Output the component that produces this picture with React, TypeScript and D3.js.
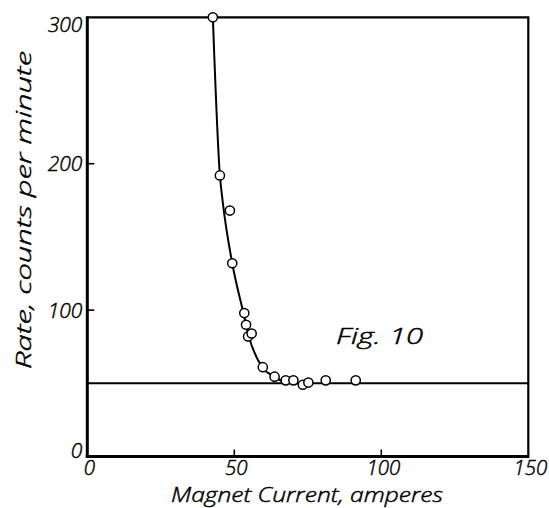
import React from "react";
import * as d3 from "d3";

// Measured counting rate versus magnet current
const currents = [42.7, 45.1, 48.5, 49.3, 53.4, 54.0, 54.7, 55.9, 59.7, 63.7, 67.5, 70.1, 73.3, 75.2, 81.1, 91.3];
const rates = [300, 192, 168, 132, 98, 90, 82, 84, 61, 54.5, 52, 52, 49, 50.5, 52, 52];

// Hand-drawn smooth curve through the data
const curveCurrents = [42.7, 45.1, 46.0, 49.3, 53.1, 54.8, 59.5, 63.8, 66.7, 70, 74];
const curveRates = [300, 192, 175, 132, 98, 83, 61, 54.5, 51, 50, 50];

// Background level
const backgroundRate = 50;

const xTicks = [0, 50, 100, 150];
const yTicks = [0, 100, 200, 300];
const xTickMarks = [50, 100];
const yTickMarks = [100, 200];

const W = 549;
const H = 508;
const FONT = "'Open Sans', 'DejaVu Sans', sans-serif";
const WEIGHT = 300;

export default function App() {
  const x = d3.scaleLinear().domain([0, 150]).range([87.3, 528.3]);
  const y = d3.scaleLinear().domain([0, 300]).range([456.5, 17.3]);

  const line = d3
    .line<[number, number]>()
    .x((d) => x(d[0]))
    .y((d) => y(d[1]))
    .curve(d3.curveMonotoneX);
  const curvePath = line(curveCurrents.map((c, i) => [c, curveRates[i]] as [number, number])) || "";

  const [x0, x1] = x.range();
  const [y0, y1] = y.range();

  // light lettering, lightly stroked to give an inked line weight
  const textProps = {
    fontFamily: FONT,
    fontStyle: "italic",
    fontWeight: WEIGHT,
    fill: "#000",
    stroke: "#000",
    strokeWidth: 0.45,
  } as const;

  return (
    <svg
      width={W}
      height={H}
      viewBox={`0 0 ${W} ${H}`}
      style={{ position: "absolute", left: 0, top: 0, background: "#fff" }}
    >
      <rect x={0} y={0} width={W} height={H} fill="#fff" />

      {/* frame */}
      <line x1={x0} x2={x0} y1={y1 - 1} y2={y0 + 1.5} stroke="#000" strokeWidth={3} />
      <line x1={x0 - 1.5} x2={x1 + 1} y1={y0} y2={y0} stroke="#000" strokeWidth={3} />
      <line x1={x0} x2={x1 + 1} y1={y1} y2={y1} stroke="#000" strokeWidth={2.2} />
      <line x1={x1} x2={x1} y1={y1} y2={y0} stroke="#000" strokeWidth={2.2} />

      {/* inward tick marks */}
      {xTickMarks.map((t) => (
        <line key={"xt" + t} x1={x(t)} x2={x(t)} y1={y0} y2={y0 - 7} stroke="#000" strokeWidth={1.6} />
      ))}
      {yTickMarks.map((t) => (
        <line key={"yt" + t} x1={x0} x2={x0 + 7} y1={y(t)} y2={y(t)} stroke="#000" strokeWidth={1.6} />
      ))}

      {/* tick labels */}
      {xTicks.map((t) => (
        <text key={"xl" + t} x={x(t) + 2} y={475} textAnchor="middle" fontSize={20.5} {...textProps}>
          {t}
        </text>
      ))}
      {yTicks.map((t) => (
        <text
          key={"yl" + t}
          x={x0 - 5}
          y={Math.min(Math.max(y(t), 24), 450)}
          dy="0.36em"
          textAnchor="end"
          fontSize={21}
          {...textProps}
        >
          {t}
        </text>
      ))}

      {/* axis titles */}
      <text
        x={307}
        y={501.5}
        textAnchor="middle"
        fontSize={20}
        textLength={272}
        lengthAdjust="spacingAndGlyphs"
        {...textProps}
      >
        Magnet Current, amperes
      </text>
      <text
        transform="translate(31,210) rotate(-90)"
        textAnchor="middle"
        fontSize={21}
        textLength={318}
        lengthAdjust="spacingAndGlyphs"
        {...textProps}
      >
        Rate, counts per minute
      </text>

      {/* figure label */}
      <text x={336} y={344} fontSize={22} textLength={87} lengthAdjust="spacingAndGlyphs" {...textProps}>
        Fig. 10
      </text>

      {/* background level */}
      <line
        x1={x0}
        x2={x1}
        y1={y(backgroundRate)}
        y2={y(backgroundRate)}
        stroke="#000"
        strokeWidth={2}
      />

      {/* fitted curve */}
      <path d={curvePath} fill="none" stroke="#000" strokeWidth={2} />

      {/* data points */}
      {currents.map((c, i) => (
        <circle key={"p" + i} cx={x(c)} cy={y(rates[i])} r={4.6} fill="#fff" stroke="#000" strokeWidth={1.5} />
      ))}
    </svg>
  );
}
